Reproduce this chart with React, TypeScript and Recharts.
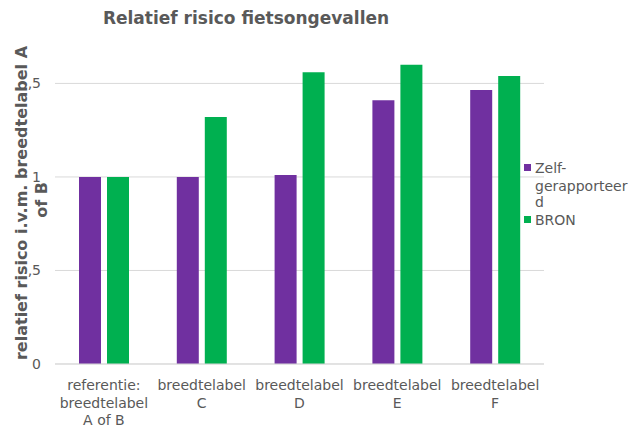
import React from 'react'
import { BarChart, Bar, XAxis, YAxis, CartesianGrid, Legend } from 'recharts'

// ---------------------------------------------------------------------------
// Data
// ---------------------------------------------------------------------------

const categories = [
  'referentie:\nbreedtelabel\nA of B',
  'breedtelabel\nC',
  'breedtelabel\nD',
  'breedtelabel\nE',
  'breedtelabel\nF',
]
const zelfGerapporteerd = [1.0, 1.0, 1.01, 1.41, 1.465]
const bron = [1.0, 1.32, 1.56, 1.6, 1.54]
const yTicks = [0, 0.5, 1, 1.5]

const seriesNames = ['Zelf-gerapporteerd', 'BRON']
const title = 'Relatief risico fietsongevallen'
const yTitleLines = ['relatief risico i.v.m. breedtelabel A', 'of B']

const PURPLE = '#7030A0'
const GREEN = '#00B050'
const TEXT = '#595959'
const GRID = '#D9D9D9'
const FONT = '"DejaVu Sans", Verdana, sans-serif'

const data = categories.map((name, i) => ({
  name,
  zelf: zelfGerapporteerd[i],
  bron: bron[i],
}))

// ---------------------------------------------------------------------------
// Helpers
// ---------------------------------------------------------------------------

// break after hyphens, then hard-wrap at a fixed number of characters
function wrapLabel(text: string, max: number): string[] {
  const parts = text.split(/(?<=-)/)
  const out: string[] = []
  for (const p of parts) {
    for (let i = 0; i < p.length; i += max) out.push(p.slice(i, i + max))
  }
  return out
}

function CategoryTick({ x, y, payload }: any) {
  const lines = String(payload.value).split('\n')
  return (
    <text x={x} y={y} textAnchor="middle" fill={TEXT} fontSize={14} fontFamily={FONT}>
      {lines.map((l, i) => (
        <tspan key={i} x={x} dy={i === 0 ? 26 : 17.5}>
          {l}
        </tspan>
      ))}
    </text>
  )
}

function LegendBox({ payload }: any) {
  const items = [...(payload || [])].sort(
    (a: any, b: any) => seriesNames.indexOf(a.value) - seriesNames.indexOf(b.value)
  )
  const rows: React.ReactNode[] = []
  let y = 18
  items.forEach((item: any, idx: number) => {
    const lines = wrapLabel(String(item.value), 12)
    rows.push(<rect key={'m' + idx} x={4} y={y - 9} width={7} height={7} fill={item.color} />)
    lines.forEach((l, j) => {
      rows.push(
        <text key={idx + '-' + j} x={15} y={y} fill={TEXT} fontSize={14} fontFamily={FONT}>
          {l}
        </text>
      )
      y += j === 0 ? 18 : 16
    })
    y += 2
  })
  return (
    <svg width={120} height={90}>
      {rows}
    </svg>
  )
}

// ---------------------------------------------------------------------------
// Component
// ---------------------------------------------------------------------------

export default function App() {
  return (
    <div style={{ position: 'absolute', left: 0, top: 0, width: 640, height: 441, background: '#fff' }}>
      <BarChart
        width={640}
        height={441}
        data={data}
        margin={{ top: 46, right: 96, bottom: 0, left: 0 }}
        barSize={22}
        barGap={6}
      >
        <CartesianGrid vertical={false} stroke={GRID} horizontalValues={yTicks} />
        <XAxis
          dataKey="name"
          height={77}
          interval={0}
          tickSize={0}
          tickMargin={0}
          tickLine={false}
          axisLine={{ stroke: GRID }}
          tick={<CategoryTick />}
        />
        <YAxis
          width={55}
          domain={[0, 1.7]}
          ticks={yTicks}
          tickSize={0}
          tickMargin={14}
          axisLine={false}
          tickLine={false}
          tickFormatter={(v: number) => String(v).replace('.', ',')}
          tick={{ fill: TEXT, fontSize: 14, fontFamily: FONT }}
        />
        <Legend
          layout="horizontal"
          verticalAlign="middle"
          align="center"
          content={<LegendBox />}
          wrapperStyle={{ left: 520, top: 155, width: 120, height: 90 }}
        />
        <Bar dataKey="zelf" name={seriesNames[0]} fill={PURPLE} isAnimationActive={false} />
        <Bar dataKey="bron" name={seriesNames[1]} fill={GREEN} isAnimationActive={false} />
      </BarChart>
      <svg
        width={640}
        height={441}
        style={{ position: 'absolute', left: 0, top: 0, pointerEvents: 'none' }}
      >
        <text x={246} y={24} textAnchor="middle" fill={TEXT} fontSize={17} fontWeight="bold" fontFamily={FONT}>
          {title}
        </text>
        <rect x={0} y={40} width={27.5} height={322} fill="#fff" />
        <text
          x={27}
          y={203}
          transform="rotate(-90, 27, 203)"
          textAnchor="middle"
          fill={TEXT}
          fontSize={16}
          fontWeight="bold"
          fontFamily={FONT}
        >
          {yTitleLines[0]}
        </text>
        <text
          x={47}
          y={200}
          transform="rotate(-90, 47, 200)"
          textAnchor="middle"
          fill={TEXT}
          fontSize={16}
          fontWeight="bold"
          fontFamily={FONT}
        >
          {yTitleLines[1]}
        </text>
      </svg>
    </div>
  )
}
